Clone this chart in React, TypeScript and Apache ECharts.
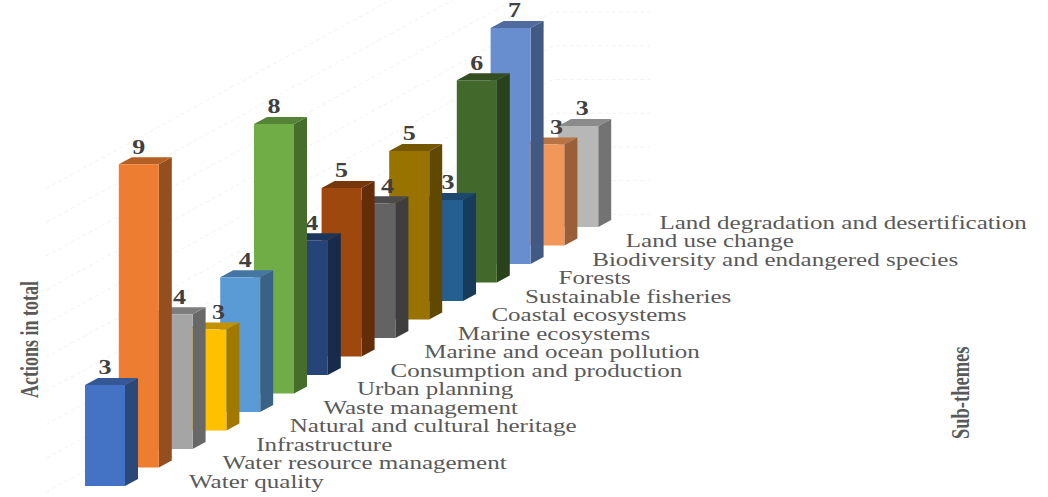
import React, { useEffect, useRef } from "react";
import * as echarts from "echarts";

const categories = [
  "Water quality",
  "Water resource management",
  "Infrastructure",
  "Natural and cultural heritage",
  "Waste management",
  "Urban planning",
  "Consumption and production",
  "Marine and ocean pollution",
  "Marine ecosystems",
  "Coastal ecosystems",
  "Sustainable fisheries",
  "Forests",
  "Biodiversity and endangered species",
  "Land use change",
  "Land degradation and desertification",
];
const actions = [3, 9, 4, 3, 4, 8, 4, 5, 4, 5, 3, 6, 7, 3, 3];
const wallTicks = [0, 1, 2, 3, 4, 5, 6, 7, 8, 9];
const palette = [
  "#4472C4", "#ED7D31", "#A5A5A5", "#FFC000", "#5B9BD5",
  "#70AD47", "#264478", "#9E480E", "#636363", "#997300",
  "#255E91", "#43682B", "#698ED0", "#F1975A", "#B7B7B7",
];
const yAxisTitle = "Actions in total";
const xAxisTitle = "Sub-themes";

// layout of the oblique projection, in pixels
const BAND = 33.8;
const DEPTH_STEP = 18.5;
const BAR_W = 40;
const SIDE_DX = 13;
const SIDE_DY = 7;
const LABEL_NUDGE = [0, 0, 7, 12, 5, 0, 4, 0, 12, 0, 5, 0, 4, 12, 4];
const SERIF = '"Liberation Serif", serif';

function shade(hex: string, k: number) {
  const n = parseInt(hex.slice(1), 16);
  const c = [(n >> 16) & 255, (n >> 8) & 255, n & 255].map((v) => Math.round(v * k));
  return `rgb(${c[0]},${c[1]},${c[2]})`;
}

const renderBar = (_: any, api: any) => {
  const i = api.value(0);
  const v = api.value(1);
  const [cx, top0] = api.coord([i, v]);
  const [, base0] = api.coord([i, 0]);
  const shift = DEPTH_STEP * i;
  const x = cx - BAR_W / 2;
  const top = top0 - shift;
  const base = base0 - shift;
  const color = palette[i];
  const z2 = 20 - i;
  return {
    type: "group",
    children: [
      {
        type: "text",
        z2,
        x: x + 104 - 0.2 * i,
        y: base - 4,
        scaleX: 1.39,
        style: {
          text: categories[i],
          font: `18px ${SERIF}`,
          fill: "#595959",
          textAlign: "left",
          verticalAlign: "middle",
        },
      },
      {
        type: "text",
        z2,
        x: cx + LABEL_NUDGE[i],
        y: top - 17.5,
        scaleX: 1.3,
        style: {
          text: String(v),
          font: `bold 20px ${SERIF}`,
          fill: "#404040",
          textAlign: "center",
          verticalAlign: "middle",
        },
      },
      {
        type: "polygon",
        z2,
        shape: {
          points: [
            [x + BAR_W, top],
            [x + BAR_W + SIDE_DX, top - SIDE_DY],
            [x + BAR_W + SIDE_DX, base - SIDE_DY],
            [x + BAR_W, base],
          ],
        },
        style: { fill: shade(color, 0.63) },
      },
      {
        type: "polygon",
        z2,
        shape: {
          points: [
            [x, top],
            [x + SIDE_DX, top - SIDE_DY],
            [x + BAR_W + SIDE_DX, top - SIDE_DY],
            [x + BAR_W, top],
          ],
        },
        style: { fill: shade(color, 0.76) },
      },
      {
        type: "rect",
        z2,
        shape: { x, y: top, width: BAR_W, height: base - top },
        style: { fill: color },
      },
    ],
  };
};

const renderWallLine = (_: any, api: any) => {
  const v = api.value(0);
  const [x0, y] = api.coord([0, v]);
  const [x1] = api.coord([categories.length - 1, v]);
  const startX = x0 - 59;
  const cornerX = x1 - 25;
  const rise = ((cornerX - startX) * DEPTH_STEP) / BAND;
  const yStart = y + 6;
  return {
    type: "polyline",
    z2: 0,
    shape: {
      points: [
        [startX, yStart],
        [cornerX, yStart - rise],
        [cornerX + 97, yStart - rise],
      ],
    },
    style: { stroke: "#f3f3f3", lineWidth: 1, lineDash: [4, 3], fill: "none" },
  };
};

export default function App() {
  const ref = useRef<HTMLDivElement>(null);
  useEffect(() => {
    document.body.style.margin = "0";
    const chart = echarts.init(ref.current!, undefined, { renderer: "svg" });
    chart.setOption({
      animation: false,
      backgroundColor: "#ffffff",
      grid: { left: 105 - BAND / 2, top: 182.7, width: BAND * categories.length, height: 303.3 },
      xAxis: { type: "category", data: categories, show: false },
      yAxis: { type: "value", min: 0, max: 9, interval: 1, show: false },
      graphic: [
        {
          type: "text",
          x: 42,
          y: 398,
          rotation: Math.PI / 2,
          scaleX: 0.72,
          style: {
            text: yAxisTitle,
            font: `bold 25px ${SERIF}`,
            fill: "#595959",
            textAlign: "left",
            verticalAlign: "bottom",
          },
        },
        {
          type: "text",
          x: 973,
          y: 439,
          rotation: Math.PI / 2,
          scaleX: 0.74,
          style: {
            text: xAxisTitle,
            font: `bold 25px ${SERIF}`,
            fill: "#595959",
            textAlign: "left",
            verticalAlign: "bottom",
          },
        },
      ],
      series: [
        {
          type: "custom",
          renderItem: renderWallLine,
          data: wallTicks.map((t) => [t]),
          encode: { y: 0 },
          silent: true,
          clip: false,
          z: 1,
        },
        {
          type: "custom",
          renderItem: renderBar,
          data: actions.map((v, i) => [i, v]).reverse(),
          encode: { x: 0, y: 1 },
          clip: false,
          z: 2,
        },
      ],
    });
    return () => chart.dispose();
  }, []);
  return <div ref={ref} style={{ width: 1048, height: 497 }} />;
}
